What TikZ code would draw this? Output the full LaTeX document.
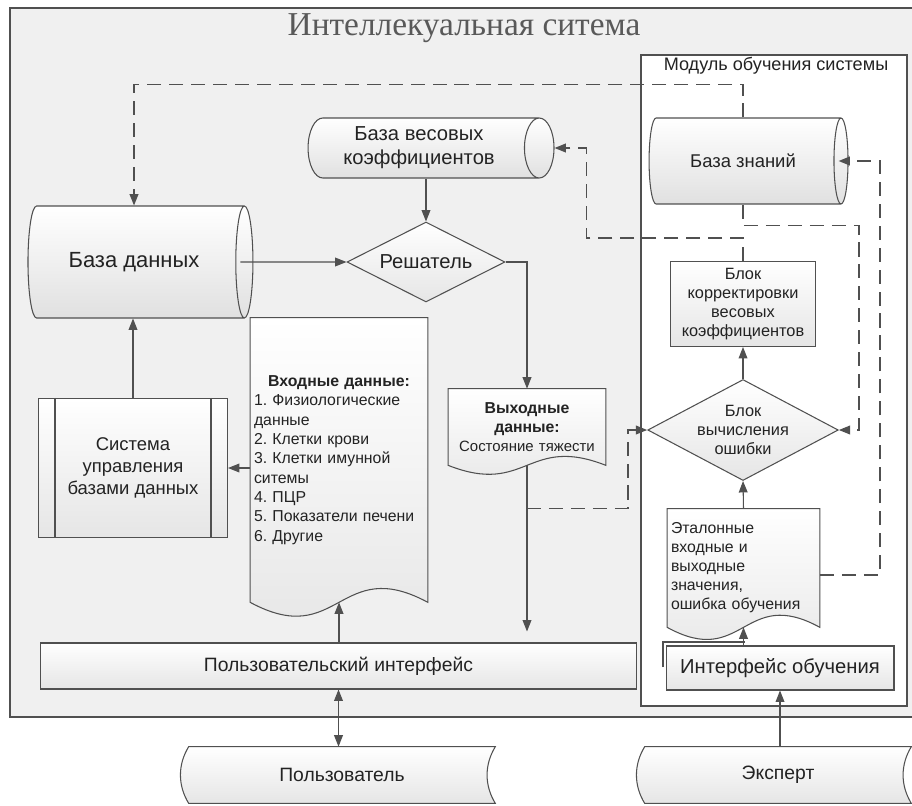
\documentclass[tikz,border=0pt]{standalone}
\usepackage{fontspec}
\setmainfont{Liberation Sans}
\newfontfamily\titlefont{Liberation Serif}
\usepackage{tikz}
\usetikzlibrary{shapes.geometric,arrows.meta,positioning,calc}
\definecolor{linegray}{RGB}{80,80,80}
\definecolor{textgray}{RGB}{35,35,35}
\definecolor{framefill}{RGB}{240,240,240}
\pgfdeclarelayer{frame}
\pgfdeclarelayer{docs}
\pgfsetlayers{frame,docs,main}
\frenchspacing
\newcommand{\docoutline}[2]{%
  \draw[outline] (#1.north west) -- (#1.north east) -- (#1.south east)
    .. controls ($(#1.south)+(0,-#2)$) and ($(#1.south)+(0,#2)$) .. (#1.south west) -- cycle;}
\newcommand{\storedoutline}[1]{%
  \draw[outline] (#1.north west) -- (#1.north east)
    .. controls ($(#1.north east)+(-11,18)$) and ($(#1.south east)+(-11,-18)$) .. (#1.south east)
    -- (#1.south west)
    .. controls ($(#1.south west)+(-11,-18)$) and ($(#1.north west)+(-11,18)$) .. (#1.north west) -- cycle;}

\begin{document}
\begin{tikzpicture}[x=0.02cm,y=-0.02cm,>={Triangle[length=6.5pt,width=5pt]}]
        \tikzset{block/.style={rectangle,draw=linegray,line width=0.6pt,top color=white,bottom color=black!10,text=textgray,align=center}}
        \tikzset{cyl/.style={cylinder,shape border rotate=0,aspect=0.55,draw=linegray,line width=0.6pt,top color=white,bottom color=black!12,text=textgray,align=center}}
        \tikzset{decision/.style={diamond,aspect=2,inner sep=0pt,draw=linegray,line width=0.6pt,top color=white,bottom color=black!10,text=textgray,align=center}}
        \tikzset{doctext/.style={rectangle,inner sep=2pt,text=textgray}}
        \tikzset{outline/.style={draw=linegray,line width=0.6pt,top color=white,bottom color=black!10}}
        \tikzset{line/.style={draw=linegray,line width=0.6pt}}
        \tikzset{dline/.style={draw=linegray,line width=0.9pt,dash pattern=on 8pt off 4.5pt}}

        \useasboundingbox (0,0) rectangle (912,805);
        \clip (0,0) rectangle (912,805);

        \begin{pgfonlayer}{frame}
        \draw[line width=0.8pt,draw=linegray,fill=framefill] (10,8) rectangle (930,717);
        \draw[line,fill=white] (641,55) rectangle (907,706);
        \end{pgfonlayer}

        \node[font=\titlefont\fontsize{19}{22}\selectfont,text=black!65] (title) at (464,28) {Интеллекуальная ситема};
        \node[text=textgray,font=\fontsize{10.3}{12}\selectfont] (modlabel) at (776,66) {Модуль обучения системы};

        \node[cyl,minimum height=4.5cm,minimum width=2.24cm,font=\fontsize{12.5}{14}\selectfont] (db) at (134,262) {База данных};
        \node[cyl,minimum height=4.92cm,minimum width=1.2cm,font=\fontsize{11.5}{13.6}\selectfont] (wcoef) at (419,148) {База весовых\\коэффициентов};
        \node[cyl,minimum height=3.98cm,minimum width=1.72cm,font=\fontsize{10.5}{12}\selectfont] (kb) at (743,161) {База знаний};
        \node[decision,minimum width=3.16cm,minimum height=1.6cm,font=\fontsize{11.5}{13}\selectfont] (solver) at (426,262) {Решатель};
        \node[block,minimum width=2.9cm,minimum height=1.7cm,font=\fontsize{9.3}{10.8}\selectfont] (corrbox) at (743,304) {Блок\\корректировки\\весовых\\коэффициентов};
        \node[decision,minimum width=3.06cm,minimum height=2.02cm,font=\fontsize{9.3}{10.8}\selectfont] (errdiam) at (743,430) {Блок\\вычисления\\ошибки};
        \node[block,minimum width=3.78cm,minimum height=2.78cm,font=\fontsize{10.5}{12.5}\selectfont] (dbms) at (133,468) {Система\\управления\\базами данных};
        \node[block,minimum width=11.94cm,minimum height=0.92cm,font=\fontsize{11}{13}\selectfont] (ui) at (338.5,666) {Пользовательский интерфейс};
        \node[block,minimum width=4.56cm,minimum height=0.88cm,font=\fontsize{11.5}{13}\selectfont] (learnif) at (780,668) {Интерфейс обучения};

        \node[doctext,text width=3.4cm,minimum height=5.68cm,align=left,font=\fontsize{9}{11}\selectfont] (indoc) at (339,460) {\centering\textbf{Входные данные:}\par\raggedright 1. Физиологические\\данные\\2. Клетки крови\\3. Клетки имунной\\ситемы\\4. ПЦР\\5. Показатели печени\\6. Другие};
        \node[doctext,text width=3.0cm,minimum height=1.52cm,align=center,font=\fontsize{9}{10.8}\selectfont] (outdoc) at (527,427) {\textbf{Выходные\\данные:}\\{\fontsize{8.5}{10.8}\selectfont Состояние тяжести}\\[3pt]};
        \node[doctext,text width=2.9cm,minimum height=2.36cm,align=left,font=\fontsize{9}{10.8}\selectfont] (etalon) at (743.5,568) {Эталонные\\входные и\\выходные\\значения,\\ошибка обучения};

        \node[doctext,minimum width=6.12cm,minimum height=1.12cm,font=\fontsize{11}{13}\selectfont] (user) at (342,775) {Пользователь};
        \node[doctext,minimum width=5.32cm,minimum height=1.12cm,font=\fontsize{11}{13}\selectfont] (expert) at (778,775) {Эксперт};

        \begin{pgfonlayer}{docs}
        \docoutline{indoc}{48}
        \docoutline{outdoc}{31}
        \docoutline{etalon}{42}
        \storedoutline{user}
        \storedoutline{expert}
        \draw[line] (663,667) |- (745,642);
        \end{pgfonlayer}

        \draw[line] ([xshift=0.34cm]dbms.north west) -- ([xshift=0.34cm]dbms.south west);
        \draw[line] ([xshift=-0.34cm]dbms.north east) -- ([xshift=-0.34cm]dbms.south east);

        \draw[dline,->] (corrbox.north |- kb.north) -- ++(0,-33) -| (db.north);
        \draw[line,->] (solver.north |- wcoef.south) -- (solver.north);
        \draw[line,->] ([xshift=-0.26cm]db.east) -- (solver.west);
        \draw[line,->] (solver.east) -| (outdoc.north);
        \draw[line,->,shorten >=0.22cm] (outdoc.south) -- (outdoc.south |- ui.north);
        \coordinate (tap) at ($(outdoc.south)+(0,43)$);
        \draw[dline,->] (tap) -- ++(101,0) |- (errdiam.west);
        \draw[dline,->] (corrbox.north) -- ++(0,-23) -| ([xshift=0.64cm]wcoef.east) -- (wcoef.east);
        \draw[dline,->] (corrbox.north |- kb.south) -- ++(0,21) -| ([xshift=0.4cm]errdiam.east) -- (errdiam.east);
        \draw[dline,->] ([yshift=-0.14cm]etalon.east) -- ++(60,0) |- ([xshift=-0.2cm]kb.east);
        \draw[line,->] (errdiam.north) -- (corrbox.south);
        \draw[line,->] (etalon.north) -- (errdiam.south);
        \draw[line,->] (etalon.south |- learnif.north) -- (etalon.south);
        \draw[line,->] (learnif.south |- expert.north) -- (learnif.south);
        \draw[line,<->] (ui.south) -- (ui.south |- user.north);
        \draw[line,->] (indoc.south |- ui.north) -- (indoc.south);
        \draw[line,->] (indoc.west |- dbms.east) -- (dbms.east);
        \draw[line,->] (dbms.north) -- (dbms.north |- db.south);
\end{tikzpicture}
\end{document}
